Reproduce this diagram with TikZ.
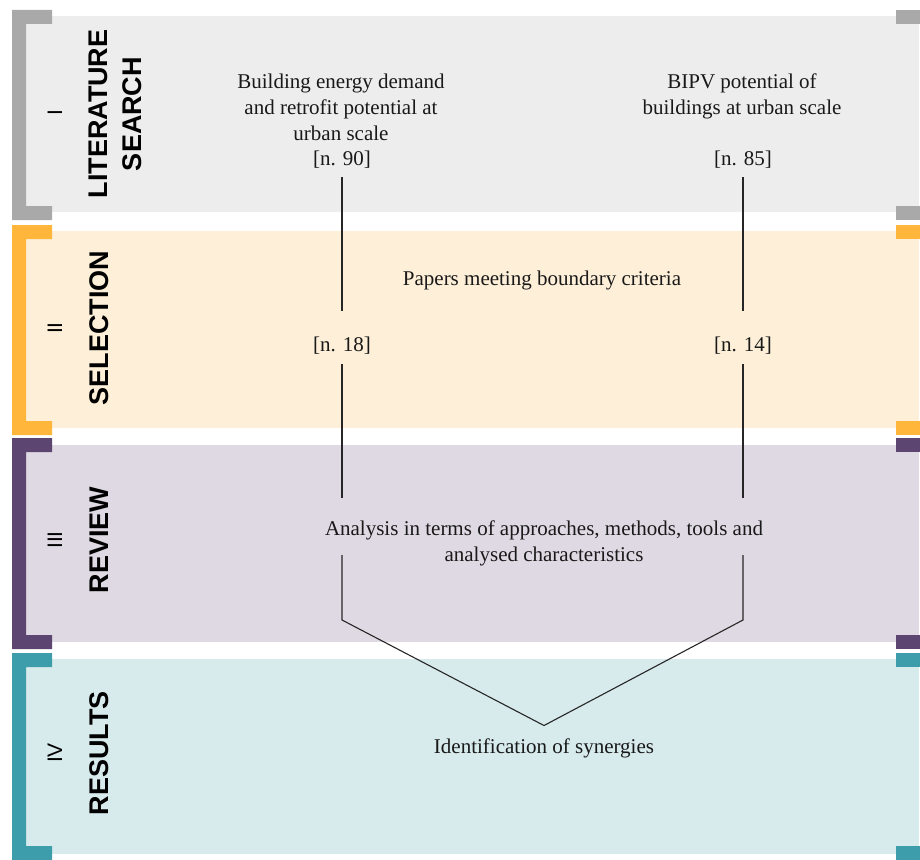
\documentclass[tikz,border=0pt]{standalone}
\usepackage{fontspec}
\setmainfont{Liberation Serif}
\setsansfont{Liberation Sans}
\definecolor{litbar}{HTML}{A9A9A9}
\definecolor{litbg}{HTML}{EDEDED}
\definecolor{selbar}{HTML}{FFB63A}
\definecolor{selbg}{HTML}{FEEFD8}
\definecolor{revbar}{HTML}{5D4571}
\definecolor{revbg}{HTML}{DFD9E3}
\definecolor{resbar}{HTML}{3E9DAA}
\definecolor{resbg}{HTML}{D7EAEC}
\tikzset{
  phase/.style={rotate=90,font=\sffamily\bfseries\fontsize{27}{34}\selectfont,align=center,inner sep=0pt},
  numeral/.style={rotate=90,font=\sffamily\fontsize{21}{25}\selectfont,inner sep=0pt},
  txt/.style={font=\fontsize{21}{26}\selectfont,align=center,inner sep=0pt,text=black!90},
  count/.style={font=\fontsize{21}{26}\selectfont,inner sep=0pt,text=black!90},
  link/.style={draw=black!85,line width=1.1pt}
}
\begin{document}
\begin{tikzpicture}[x=1pt,y=-1pt]
\useasboundingbox (0,0) rectangle (920,859);
% I literature search
\fill[litbg] (26,16) rectangle (919,212);
\fill[litbar] (12,10) -- (52,10) -- (52,24) -- (26,24) -- (26,206) -- (52,206) -- (52,220) -- (12,220) -- cycle;
\fill[litbar] (896,10) rectangle (920,24);
\fill[litbar] (896,206) rectangle (920,220);
% II selection
\fill[selbg] (26,231) rectangle (919,428);
\fill[selbar] (12,225) -- (52,225) -- (52,239) -- (26,239) -- (26,421) -- (52,421) -- (52,435) -- (12,435) -- cycle;
\fill[selbar] (896,225) rectangle (920,239);
\fill[selbar] (896,421) rectangle (920,435);
% III review
\fill[revbg] (26,445) rectangle (919,642);
\fill[revbar] (12,438) -- (52,438) -- (52,452) -- (26,452) -- (26,635) -- (52,635) -- (52,649) -- (12,649) -- cycle;
\fill[revbar] (896,438) rectangle (920,452);
\fill[revbar] (896,635) rectangle (920,649);
% IV results
\fill[resbg] (26,659) rectangle (919,854);
\fill[resbar] (12,653) -- (52,653) -- (52,667) -- (26,667) -- (26,846) -- (52,846) -- (52,860) -- (12,860) -- cycle;
\fill[resbar] (896,653) rectangle (920,667);
\fill[resbar] (896,846) rectangle (920,860);

\node[numeral] (numI) at (55,113) {I};
\node[numeral] (numII) at (55,328) {II};
\node[numeral] (numIII) at (55,540) {III};
\node[numeral] (numIV) at (55,753) {IV};
\node[phase] (lit) at (115,114) {LITERATURE\\SEARCH};
\node[phase] (sel) at (99,328) {SELECTION};
\node[phase] (rev) at (99,540) {REVIEW};
\node[phase] (res) at (99,753) {RESULTS};

\node[txt,anchor=north] (demand) at (341,74) {Building energy demand\\and retrofit potential at\\urban scale};
\node[count,anchor=base] (n90) at (342,165) {[n. 90]};
\node[txt,anchor=north] (bipv) at (742,74) {BIPV potential of\\buildings at urban scale};
\node[count,anchor=base] (n85) at (743,165) {[n. 85]};
\node[txt,anchor=base] (papers) at (542,285) {Papers meeting boundary criteria};
\node[count,anchor=base] (n18) at (342,351) {[n. 18]};
\node[count,anchor=base] (n14) at (743,351) {[n. 14]};
\node[txt,anchor=north] (review) at (544,521) {Analysis in terms of approaches, methods, tools and\\analysed characteristics};
\node[txt,anchor=base,inner ysep=12.5pt] (synergy) at (544,753) {Identification of synergies};
\coordinate (bendL) at (342,620);
\coordinate (bendR) at (743,620);

\draw[link,shorten <=9pt,shorten >=25pt] (n90) -- (n18);
\draw[link,shorten <=9pt,shorten >=25pt] (n85) -- (n14);
\draw[link,shorten <=10pt,shorten >=23pt] (n18) -- (n18 |- review.north);
\draw[link,shorten <=10pt,shorten >=23pt] (n14) -- (n14 |- review.north);
\draw[link,shorten <=34pt] (bendL |- review.north) -- (bendL) -- (synergy.north);
\draw[link,shorten <=34pt] (bendR |- review.north) -- (bendR) -- (synergy.north);
\end{tikzpicture}
\end{document}
